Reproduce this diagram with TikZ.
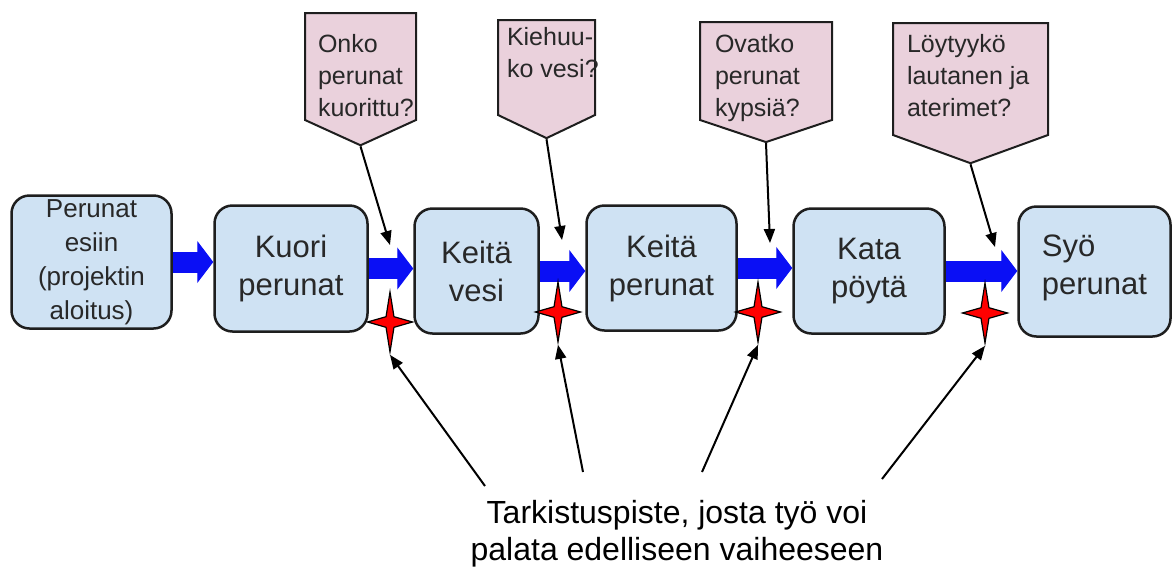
\documentclass[tikz,border=0pt]{standalone}
\usepackage{fontspec}
\setmainfont{Liberation Sans}
\usetikzlibrary{shapes.geometric,shapes.symbols,arrows.meta}
\definecolor{stepblue}{RGB}{207,226,243}
\definecolor{notepink}{RGB}{234,209,220}
\definecolor{edge}{RGB}{30,30,30}
\definecolor{ink}{RGB}{40,40,40}
\definecolor{flowblue}{RGB}{10,15,245}
% question text: height, width, top gap, lines
\newcommand{\qtext}[4]{\parbox[c][#1pt][t]{#2pt}{\raggedright\vspace*{#3pt}\strut #4}}
\tikzset{
  phase/.style={draw=edge, line width=2.5pt, fill=stepblue, rounded corners=18pt,
    text=ink, align=center, font=\fontsize{31}{38}\selectfont},
  question/.style={signal, signal to=south, draw=edge, line width=2pt, fill=notepink,
    inner ysep=0pt, text=ink, font=\fontsize{25}{32}\selectfont},
  flow/.style={flowblue, line width=21pt, -{Triangle[length=16pt,width=42pt,line width=1pt]}},
  pointer/.style={black, line width=2pt, -{Triangle[length=14pt,width=11pt]}},
  checkstar/.style={star, star points=4, star point ratio=4, minimum size=60pt,
    inner sep=0pt, xscale=0.75, draw=black, line width=1.2pt, fill=red},
}
\begin{document}
\begin{tikzpicture}[x=1pt,y=-1pt]
\useasboundingbox (0,0) rectangle (1174,566);
% phases
\node[phase, minimum width=160, minimum height=133, font=\fontsize{26}{34}\selectfont] (k1) at (91.5,262) {Perunat\\esiin\\(projektin\\aloitus)};
\node[phase, minimum width=153, minimum height=126] (k2) at (291,268.5) {Kuori\\perunat};
\node[phase, minimum width=124, minimum height=125] (k3) at (476.5,271) {Keitä\\vesi};
\node[phase, minimum width=150, minimum height=125] (k4) at (661.5,268) {Keitä\\perunat};
\node[phase, minimum width=151, minimum height=125] (k5) at (869,271) {Kata\\pöytä};
\node[phase, minimum width=152, minimum height=130, align=left, text depth=14pt] (k6) at (1094.5,271.5) {Syö\\perunat};
% flow arrows
\draw[flow] (k1.east) -- (k1.east -| k2.west);
\draw[flow] (k2.east) -- (k2.east -| k3.west);
\draw[flow] (k3.east) -- (k3.east -| k4.west);
\draw[flow] (k4.east) -- (k4.east -| k5.west);
\draw[flow] (k5.east) -- (k5.east -| k6.west);
% questions
\node[question, inner xsep=13pt, signal pointer angle=131] (q1) at (360.5,66.5) {\qtext{107}{85}{16.6}{Onko\\perunat\\kuorittu?}};
\node[question, inner xsep=9pt, signal pointer angle=129] (q2) at (546.5,67.5) {\qtext{95}{79}{2.6}{\mbox{Kiehuu-}\\\mbox{ko vesi?}}};
\node[question, inner xsep=15pt, signal pointer angle=143] (q3) at (766,71) {\qtext{98}{102}{7.6}{Ovatko\\perunat\\kypsiä?}};
\node[question, inner xsep=14pt, signal pointer angle=140] (q4) at (970.5,79) {\qtext{112}{127}{6.6}{Löytyykö\\\mbox{lautanen ja}\\aterimet?}};
\coordinate (t1) at (390,245);
\coordinate (t2) at (562,240);
\coordinate (t3) at (770,243);
\coordinate (t4) at (995,247);
\draw[pointer] (q1.south) -- (t1);
\draw[pointer] (q2.south) -- (t2);
\draw[pointer] (q3.south) -- (t3);
\draw[pointer] (q4.south) -- (t4);
% checkpoints
\node[checkstar] (s1) at (390,322) {};
\node[checkstar] (s2) at (558,312) {};
\node[checkstar] (s3) at (758,312) {};
\node[checkstar] (s4) at (985,313) {};
% note
\node[text=black, align=center, font=\fontsize{32}{37}\selectfont] (note) at (677,534) {Tarkistuspiste, josta työ voi\\palata edelliseen vaiheeseen};
\coordinate (b1) at (485,486);
\coordinate (b2) at (583,472);
\coordinate (b3) at (702,472);
\coordinate (b4) at (882,479);
\draw[pointer] (b1) -- (s1.south);
\draw[pointer] (b2) -- (s2.south);
\draw[pointer] (b3) -- (s3.south);
\draw[pointer] (b4) -- (s4.south);
\end{tikzpicture}
\end{document}
